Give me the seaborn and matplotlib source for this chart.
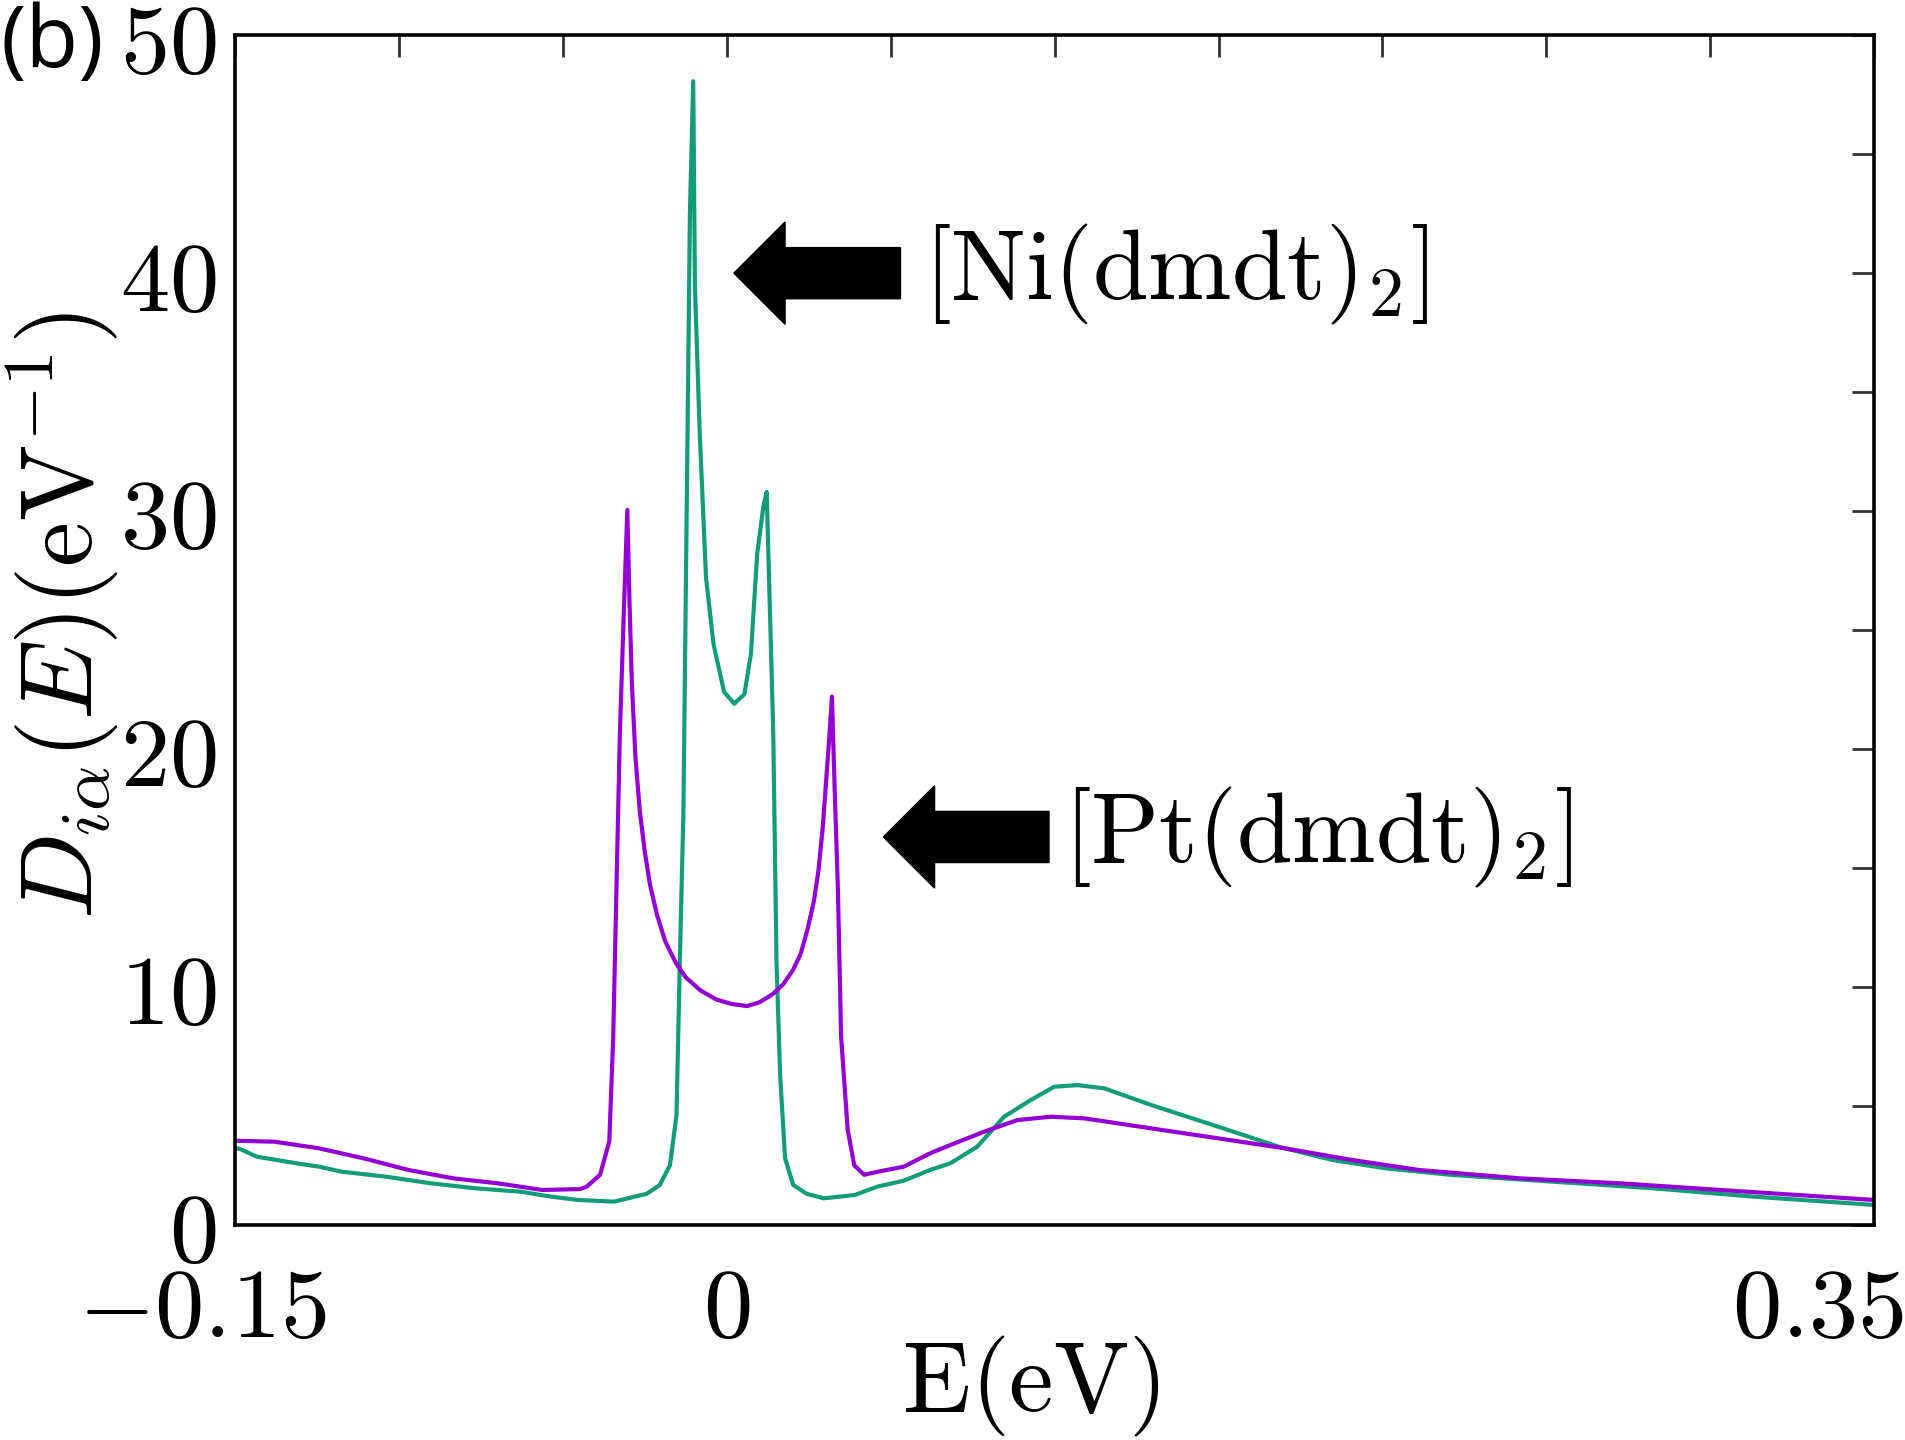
import numpy as np
import pandas as pd
import matplotlib
matplotlib.use('Agg')
import matplotlib.pyplot as plt
import matplotlib.transforms as mtransforms
from matplotlib.font_manager import FontProperties
from matplotlib.ticker import FixedLocator, MultipleLocator
import seaborn as sns

# ---- data ----
energy_ni = [-0.150, -0.1487, -0.1433, -0.1311, -0.1243, -0.1175, -0.1039, -0.0902, -0.0766,
             -0.0630, -0.0535, -0.0453, -0.0344, -0.0244, -0.0204, -0.0173, -0.0153, -0.0143,
             -0.0132, -0.0122, -0.0112, -0.0102, -0.0097, -0.0082, -0.0063, -0.0040, -0.0008,
             0.0023, 0.0054, 0.0074, 0.0093, 0.0112, 0.0122, 0.0142, 0.0152, 0.0163, 0.0178,
             0.0203, 0.0244, 0.0296, 0.0391, 0.0459, 0.0540, 0.0620, 0.0682, 0.0764, 0.0846,
             0.0927, 0.0999, 0.1070, 0.1152, 0.1295, 0.1499, 0.1683, 0.1847, 0.2010, 0.2214,
             0.2520, 0.2827, 0.3133, 0.3500]
dos_ni = [3.2, 3.2, 2.86, 2.58, 2.44, 2.23, 2.02, 1.74, 1.53,
          1.39, 1.18, 1.04, 0.97, 1.3, 1.67, 2.5, 4.6, 11.0,
          17.3, 30.0, 42.6, 48.07, 39.5, 33.2, 27.2, 24.4, 22.4,
          21.9, 22.3, 24.0, 28.2, 30.2, 30.8, 20.7, 11.0, 6.3, 2.8,
          1.67, 1.3, 1.11, 1.25, 1.6, 1.85, 2.3, 2.58, 3.28, 4.54,
          5.24, 5.80, 5.87, 5.73, 5.03, 4.12, 3.28, 2.72, 2.37, 2.09,
          1.81, 1.53, 1.18, 0.83]

energy_pt = [-0.150, -0.1379, -0.1243, -0.1107, -0.0970, -0.0834, -0.0698, -0.0562, -0.0447,
             -0.0427, -0.0386, -0.0358, -0.0346, -0.0336, -0.0326, -0.0315, -0.0303, -0.0296,
             -0.0289, -0.0278, -0.0265, -0.0250, -0.0234, -0.0212, -0.0187, -0.0155, -0.0125,
             -0.0080, -0.0032, 0.0015, 0.0062, 0.0100, 0.0139, 0.0172, 0.0202, 0.0226, 0.0248,
             0.0266, 0.0280, 0.0293, 0.0303, 0.0313, 0.0321, 0.0330, 0.0339, 0.0349, 0.0369,
             0.0389, 0.0419, 0.0469, 0.0540, 0.0620, 0.0682, 0.0785, 0.0887, 0.0989, 0.1091,
             0.1295, 0.1499, 0.1703, 0.1908, 0.2112, 0.2418, 0.2724, 0.3031, 0.3500]
dos_pt = [3.53, 3.49, 3.21, 2.79, 2.30, 1.95, 1.74, 1.46, 1.5,
          1.6, 2.1, 3.5, 7.9, 14.2, 20.5, 25.2, 30.05, 26.0,
          22.7, 19.6, 17.4, 15.7, 14.3, 13.0, 11.9, 11.0, 10.4,
          9.85, 9.47, 9.28, 9.19, 9.35, 9.68, 10.1, 10.7, 11.4, 12.5,
          13.6, 14.9, 16.7, 18.6, 20.5, 22.2, 18.0, 14.2, 7.9, 4.0,
          2.5, 2.1, 2.25, 2.44, 3.0, 3.35, 3.91, 4.40, 4.54, 4.47,
          4.05, 3.63, 3.21, 2.72, 2.30, 1.95, 1.74, 1.46, 1.04]

compounds = ['Ni', 'Pt']
compound_labels = [r'$[\mathrm{Ni(dmdt)}_2]$', r'$[\mathrm{Pt(dmdt)}_2]$']
label_positions = [(0.0600, 40.0), (0.1025, 16.3)]
arrow_tails = [(0.0530, 40.0), (0.0983, 16.3)]
arrow_tips_x = [0.0022, 0.0478]

x_tick_values = [-0.15, 0.0, 0.35]
x_tick_labels = [r'$-0.15$', r'$0$', r'$0.35$']
y_tick_values = [0, 10, 20, 30, 40, 50]
y_tick_labels = [r'$0$', r'$10$', r'$20$', r'$30$', r'$40$', r'$50$']

colors = {'Ni': '#129c78', 'Pt': '#9400d3'}

# ---- style ----
sns.set_style('white')
plt.rcParams['font.family'] = ['DejaVu Serif']
plt.rcParams['mathtext.fontset'] = 'cm'
for key in ['text.color', 'axes.labelcolor', 'xtick.color', 'ytick.color']:
    plt.rcParams[key] = 'black'

fig = plt.figure(figsize=(19.06, 14.40), dpi=100)
ax = fig.add_axes([0.1232, 0.1495, 0.8602, 0.8260])

df = pd.concat([
    pd.DataFrame({'E': energy_ni, 'D': dos_ni, 'compound': 'Ni'}),
    pd.DataFrame({'E': energy_pt, 'D': dos_pt, 'compound': 'Pt'}),
], ignore_index=True)

sns.lineplot(data=df, x='E', y='D', hue='compound', hue_order=compounds,
             palette=colors, sort=False, estimator=None, linewidth=3.0,
             legend=False, ax=ax)

ax.set_xlim(-0.15, 0.35)
ax.set_ylim(0, 50)

ax.xaxis.set_major_locator(FixedLocator(x_tick_values))
ax.set_xticklabels(x_tick_labels)
ax.xaxis.set_minor_locator(MultipleLocator(0.05))
ax.yaxis.set_major_locator(FixedLocator(y_tick_values))
ax.set_yticklabels(y_tick_labels)
ax.yaxis.set_minor_locator(MultipleLocator(5))

ax.tick_params(axis='both', which='both', direction='in', top=True, right=True,
               length=16, width=2.0, color='#333333', labelcolor='black')
ax.tick_params(axis='x', which='major', labelsize=71, pad=27)
ax.tick_params(axis='y', which='major', labelsize=71, pad=13)

for sp in ax.spines.values():
    sp.set_linewidth(2.6)
    sp.set_color('black')

ax.set_xlabel(r'$\mathrm{E(eV)}$', fontsize=72)
ax.set_ylabel(r'$D_{i\alpha}(E)(\mathrm{eV}^{-1})$', fontsize=73)
ax.xaxis.label.set_verticalalignment('center')
ax.yaxis.label.set_verticalalignment('center')
ax.xaxis.set_label_coords(0.4856, -0.1356)
ax.yaxis.set_label_coords(-0.1050, 0.5126)

# arrows and labels
for (tx, ty), tipx, lab, (lx, ly) in zip(arrow_tails, arrow_tips_x, compound_labels, label_positions):
    ax.arrow(tx, ty, tipx - tx, 0, width=2.15, head_width=4.3, head_length=0.0156,
             length_includes_head=True, color='black', zorder=5)
    ax.text(lx, ly, lab, fontsize=72, ha='left', va='center', color='black')

fig.text(0.0005, 0.999, '(b)',
         fontproperties=FontProperties(family='Open Sans', size=62, weight='medium'),
         ha='left', va='top', color='black')

# shift edge tick labels as in reference
offsets_px = [-32, 0, -56]
for lab, dx in zip(ax.get_xticklabels(), offsets_px):
    lab.set_transform(lab.get_transform() +
                      mtransforms.ScaledTranslation(dx / 100.0, 0, fig.dpi_scale_trans))

fig.savefig('out.png', dpi=100)
